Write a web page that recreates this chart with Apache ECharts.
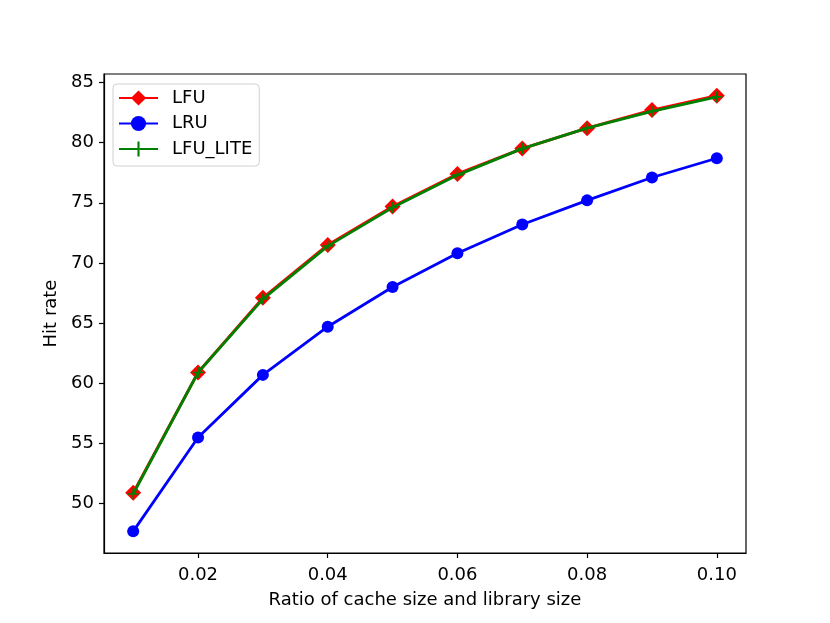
<!DOCTYPE html>
<html><head><meta charset="utf-8">
<script src="https://cdn.jsdelivr.net/npm/echarts@6/dist/echarts.min.js"></script>
<style>html,body{margin:0;padding:0;background:#fff}#c{width:830px;height:623px}</style>
</head><body><div id="c"></div>
<script>
const ratios = [0.01,0.02,0.03,0.04,0.05,0.06,0.07,0.08,0.09,0.10];
const lfu = [50.9,60.9,67.1,71.5,74.7,77.4,79.5,81.2,82.7,83.9];
const lru = [47.7,55.5,60.7,64.7,68.0,70.8,73.2,75.2,77.1,78.7];
const lfuLite = [50.8,60.9,67.0,71.4,74.6,77.3,79.5,81.2,82.6,83.8];
const xTicks = [0.02,0.04,0.06,0.08,0.10];
const yTicks = [50,55,60,65,70,75,80,85];
const font = 'DejaVu Sans';
const pair = a => ratios.map((r,i)=>[r,a[i]]);
const plus = 'path://M4.3,0H5.7V4.3H10V5.7H5.7V10H4.3V5.7H0V4.3H4.3Z';
const chart = echarts.init(document.getElementById('c'));
chart.setOption({
  animation:false,
  textStyle:{fontFamily:font},
  grid:{left:104,right:84,top:74,bottom:70,show:true,borderColor:'#000',borderWidth:1.2,backgroundColor:'transparent'},
  legend:{left:113,top:84,orient:'vertical',itemWidth:39,itemHeight:19,itemGap:7.5,
    padding:[5,7,8,5],borderColor:'#d0d0d0',borderWidth:1,borderRadius:4,backgroundColor:'rgba(255,255,255,0.8)',
    textStyle:{fontFamily:font,fontSize:18,color:'#000',padding:[0,0,0,9]},
    data:['LFU','LRU','LFU_LITE']},
  xAxis:{type:'value',min:0.0055,max:0.1045,
    name:'Ratio of cache size and library size',nameLocation:'middle',nameGap:38,
    nameTextStyle:{fontFamily:font,fontSize:18,color:'#000'},
    axisLine:{show:true,onZero:false,lineStyle:{color:'#000',width:1.2}},
    axisTick:{show:true,length:5,customValues:xTicks,lineStyle:{color:'#000',width:1.2}},
    axisLabel:{customValues:xTicks,margin:13,fontFamily:font,fontSize:18,color:'#000',formatter:v=>v.toFixed(2)},
    splitLine:{show:false}},
  yAxis:{type:'value',min:45.9,max:85.7,
    name:'Hit rate',nameLocation:'middle',nameGap:43,
    nameTextStyle:{fontFamily:font,fontSize:18,color:'#000'},
    axisLine:{show:true,onZero:false,lineStyle:{color:'#000',width:1.2}},
    axisTick:{show:true,length:5,customValues:yTicks,lineStyle:{color:'#000',width:1.2}},
    axisLabel:{customValues:yTicks,margin:10,fontFamily:font,fontSize:18,color:'#000'},
    splitLine:{show:false}},
  series:[
    {name:'LFU',type:'line',data:pair(lfu),symbol:'diamond',symbolSize:16,
      lineStyle:{color:'#ff0000',width:2.8},itemStyle:{color:'#ff0000'},z:2},
    {name:'LRU',type:'line',data:pair(lru),symbol:'circle',symbolSize:12,
      lineStyle:{color:'#0000ff',width:2.8},itemStyle:{color:'#0000ff'},z:3},
    {name:'LFU_LITE',type:'line',data:pair(lfuLite),symbol:plus,symbolSize:11,
      lineStyle:{color:'#008000',width:2.8},itemStyle:{color:'#008000'},z:4}
  ]
});
</script></body></html>
